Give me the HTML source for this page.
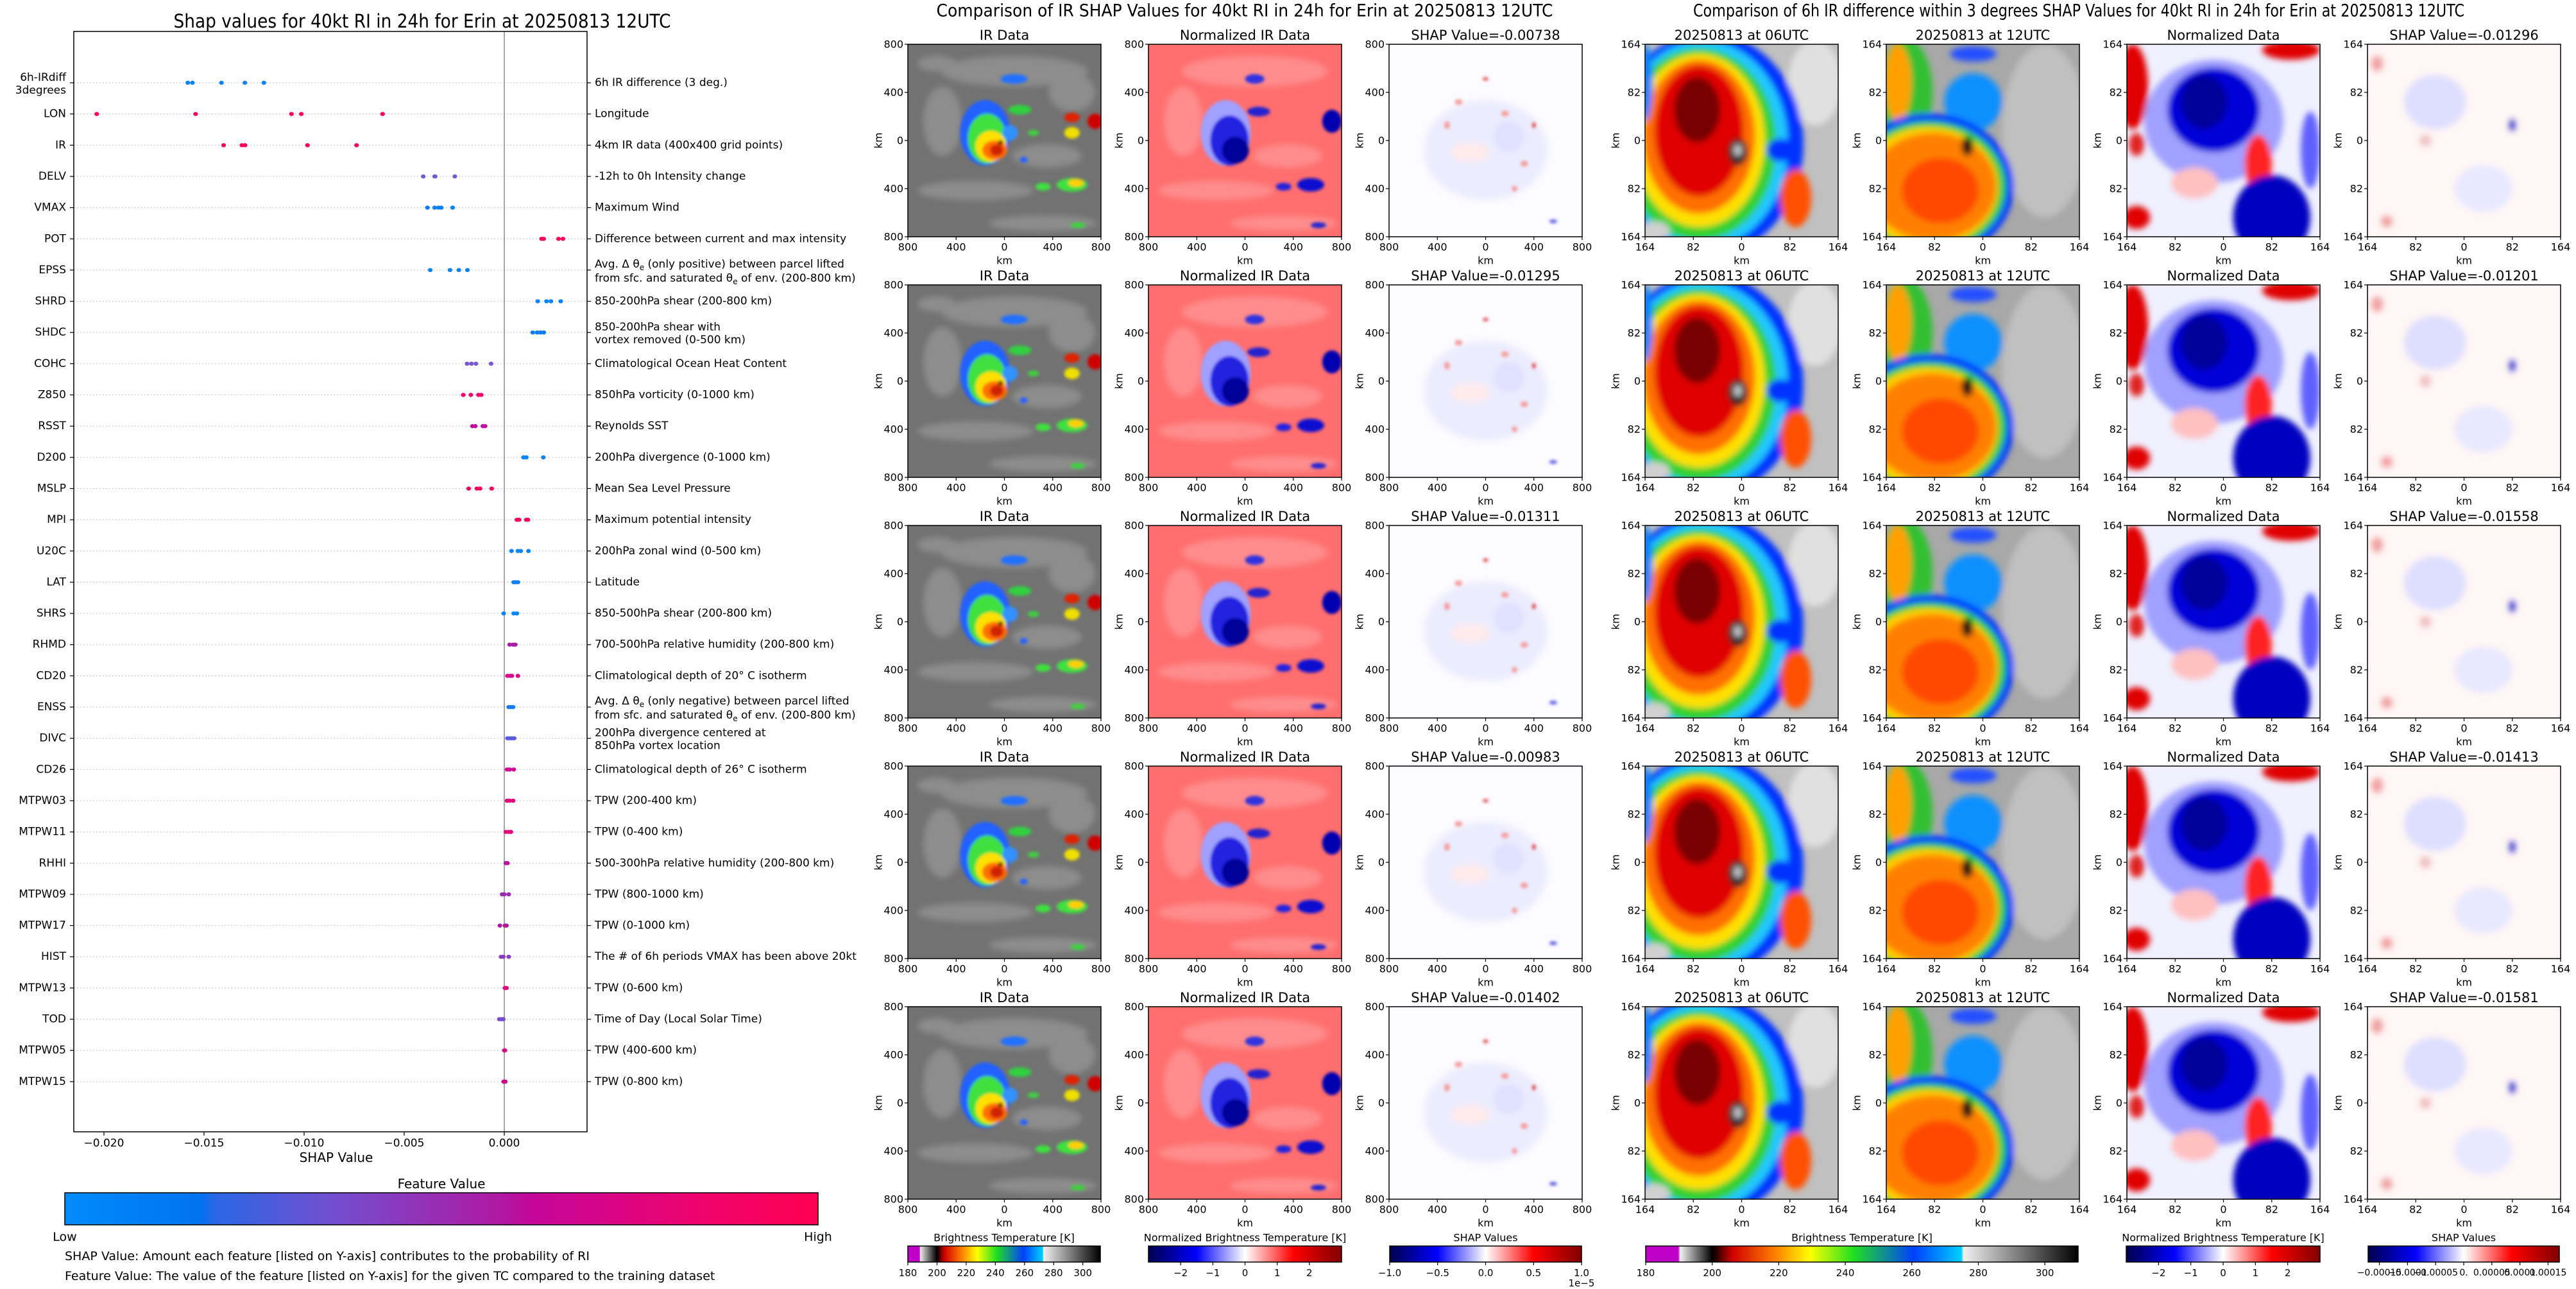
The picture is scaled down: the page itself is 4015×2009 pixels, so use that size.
<!DOCTYPE html>
<html><head><meta charset="utf-8"><title>Erin SHAP</title>
<style>
html,body{margin:0;padding:0;background:#fff;}
svg{display:block;font-family:"DejaVu Sans","Liberation Sans",sans-serif;}
</style></head>
<body>
<svg id="fig" xmlns="http://www.w3.org/2000/svg" width="4015" height="2009" viewBox="0 0 4015 2009">
<defs>
  <filter id="bl" x="-20%" y="-20%" width="140%" height="140%"><feGaussianBlur stdDeviation="1.6"/></filter>
  <filter id="bl2" x="-20%" y="-20%" width="140%" height="140%"><feGaussianBlur stdDeviation="0.8"/></filter>
  <linearGradient id="gFeat" x1="0" x2="1" y1="0" y2="0">
    <stop offset="0" stop-color="#008bfb"/><stop offset="0.18" stop-color="#0073f0"/>
    <stop offset="0.2" stop-color="#2a66e4"/><stop offset="0.35" stop-color="#7050d0"/>
    <stop offset="0.58" stop-color="#b018a2"/><stop offset="0.62" stop-color="#c4069a"/>
    <stop offset="0.85" stop-color="#f0036c"/><stop offset="1" stop-color="#ff0052"/>
  </linearGradient>
  <linearGradient id="gIR1" x1="0" x2="1" y1="0" y2="0">
    <stop offset="0" stop-color="#c000c8"/><stop offset="0.06" stop-color="#c000c8"/>
    <stop offset="0.065" stop-color="#e8e8e8"/><stop offset="0.15" stop-color="#000"/>
    <stop offset="0.19" stop-color="#d00000"/><stop offset="0.28" stop-color="#ff8000"/>
    <stop offset="0.36" stop-color="#ffff00"/><stop offset="0.46" stop-color="#20e020"/>
    <stop offset="0.6" stop-color="#0040ff"/><stop offset="0.7" stop-color="#00d0ff"/>
    <stop offset="0.705" stop-color="#f0f0f0"/><stop offset="1" stop-color="#000"/>
  </linearGradient>
  <linearGradient id="gIR2" x1="0" x2="1" y1="0" y2="0">
    <stop offset="0" stop-color="#c000c8"/><stop offset="0.075" stop-color="#c000c8"/>
    <stop offset="0.08" stop-color="#f0f0f0"/><stop offset="0.154" stop-color="#000"/>
    <stop offset="0.2" stop-color="#d00000"/><stop offset="0.3" stop-color="#ff8000"/>
    <stop offset="0.38" stop-color="#ffff00"/><stop offset="0.48" stop-color="#20e020"/>
    <stop offset="0.62" stop-color="#0040ff"/><stop offset="0.73" stop-color="#00d0ff"/>
    <stop offset="0.735" stop-color="#f0f0f0"/><stop offset="1" stop-color="#000"/>
  </linearGradient>
  <linearGradient id="gSeis" x1="0" x2="1" y1="0" y2="0">
    <stop offset="0" stop-color="#00004c"/><stop offset="0.25" stop-color="#0000ff"/>
    <stop offset="0.5" stop-color="#ffffff"/><stop offset="0.75" stop-color="#ff0000"/>
    <stop offset="1" stop-color="#800000"/>
  </linearGradient>

  <g id="imgIR">
    <rect width="100" height="100" fill="#727272"/>
    <g filter="url(#bl)" fill="#999" opacity="0.7">
      <ellipse cx="55" cy="14" rx="38" ry="8"/><ellipse cx="18" cy="40" rx="10" ry="18"/>
      <ellipse cx="35" cy="76" rx="30" ry="5"/><ellipse cx="72" cy="58" rx="18" ry="6"/>
      <ellipse cx="70" cy="93" rx="28" ry="4"/><ellipse cx="15" cy="10" rx="10" ry="4"/>
      <ellipse cx="85" cy="25" rx="12" ry="10"/>
    </g>
    <g filter="url(#bl2)">
      <ellipse cx="40" cy="46" rx="13" ry="17" fill="#2060ff"/>
      <ellipse cx="58" cy="34" rx="6" ry="2.5" fill="#30d040"/>
      <ellipse cx="55" cy="18" rx="7" ry="2.5" fill="#2070ff"/>
      <ellipse cx="41" cy="49" rx="10" ry="13" fill="#40e040"/>
      <ellipse cx="53" cy="46" rx="4" ry="4" fill="#3090ff"/>
      <ellipse cx="43" cy="53" rx="8" ry="8" fill="#ffe000"/>
      <ellipse cx="45" cy="55" rx="6.5" ry="5" fill="#ff7000"/>
      <ellipse cx="46" cy="55" rx="3.5" ry="3" fill="#d02000"/>
      <circle cx="48" cy="51" r="1.2" fill="#200000"/>
      <ellipse cx="97" cy="40" rx="4" ry="4" fill="#d00000"/>
      <ellipse cx="85" cy="38" rx="4" ry="2.5" fill="#e02000"/>
      <ellipse cx="85" cy="46" rx="4" ry="3" fill="#f0e000"/>
      <ellipse cx="85" cy="73" rx="8" ry="3.5" fill="#40e040"/>
      <ellipse cx="87" cy="72" rx="4" ry="2" fill="#ffd000"/>
      <ellipse cx="70" cy="74" rx="4" ry="2" fill="#40e040"/>
      <ellipse cx="88" cy="94" rx="4" ry="1.5" fill="#40d040"/>
      <ellipse cx="60" cy="60" rx="2" ry="1.5" fill="#2060ff"/>
      <ellipse cx="65" cy="46" rx="3" ry="1.5" fill="#40d040"/>
    </g>
  </g>
  <g id="imgNIR">
    <rect width="100" height="100" fill="#ff6e6e"/>
    <g filter="url(#bl)" fill="#ff9a9a" opacity="0.7">
      <ellipse cx="55" cy="14" rx="38" ry="8"/><ellipse cx="18" cy="40" rx="10" ry="18"/>
      <ellipse cx="35" cy="76" rx="30" ry="5"/><ellipse cx="72" cy="58" rx="18" ry="6"/>
      <ellipse cx="70" cy="93" rx="28" ry="4"/>
    </g>
    <g filter="url(#bl2)">
      <ellipse cx="40" cy="46" rx="13" ry="17" fill="#a0a0ff"/>
      <ellipse cx="42" cy="50" rx="10" ry="13" fill="#2020e0"/>
      <ellipse cx="45" cy="55" rx="7" ry="7" fill="#00009a"/>
      <ellipse cx="55" cy="18" rx="5" ry="2.5" fill="#3030e0"/>
      <ellipse cx="57" cy="35" rx="6" ry="2.5" fill="#2020d0"/>
      <ellipse cx="95" cy="40" rx="5" ry="6" fill="#0000b0"/>
      <ellipse cx="84" cy="73" rx="7" ry="3.5" fill="#1010d0"/>
      <ellipse cx="70" cy="74" rx="4" ry="2" fill="#2020e0"/>
      <ellipse cx="88" cy="94" rx="4" ry="1.5" fill="#2020d0"/>
    </g>
  </g>
  <g id="imgSIR">
    <rect width="100" height="100" fill="#fcfbff"/>
    <g filter="url(#bl)">
      <ellipse cx="50" cy="55" rx="32" ry="26" fill="#ececff"/>
      <ellipse cx="42" cy="56" rx="10" ry="5" fill="#ffeaea"/>
      <ellipse cx="62" cy="48" rx="8" ry="8" fill="#e0e0ff"/>
    </g>
    <g filter="url(#bl2)" fill="#f4a0a0">
      <ellipse cx="36" cy="30" rx="2" ry="1.5"/><ellipse cx="50" cy="18" rx="1.5" ry="1" fill="#e06060"/>
      <ellipse cx="60" cy="36" rx="2" ry="1.5"/><ellipse cx="75" cy="42" rx="1" ry="1.5" fill="#e05050"/>
      <ellipse cx="70" cy="62" rx="2" ry="1.5"/><ellipse cx="65" cy="75" rx="1.5" ry="1.5"/>
      <ellipse cx="30" cy="42" rx="1.5" ry="2"/><ellipse cx="85" cy="92" rx="2" ry="1" fill="#6060e0"/>
    </g>
  </g>
  <g id="img06">
    <rect width="100" height="100" fill="#c0c0c0"/>
    <g filter="url(#bl)">
      <ellipse cx="88" cy="20" rx="14" ry="22" fill="#e0e0e0"/>
      <ellipse cx="32" cy="52" rx="50" ry="58" fill="#0030ff"/>
      <ellipse cx="30" cy="52" rx="44" ry="54" fill="#20c8ff"/>
      <ellipse cx="28" cy="52" rx="40" ry="50" fill="#30d030"/>
      <ellipse cx="28" cy="50" rx="34" ry="45" fill="#ffe000"/>
      <ellipse cx="28" cy="48" rx="29" ry="40" fill="#ff7000"/>
      <ellipse cx="28" cy="45" rx="23" ry="34" fill="#e00000"/>
      <ellipse cx="27" cy="34" rx="12" ry="17" fill="#780000"/>
      <ellipse cx="78" cy="80" rx="8" ry="15" fill="#ff5000"/>
      <ellipse cx="70" cy="55" rx="7" ry="6" fill="#0030ff"/>
      <ellipse cx="0" cy="20" rx="4" ry="20" fill="#1080ff"/>
      <ellipse cx="48" cy="56" rx="5" ry="7" fill="#202020"/>
      <ellipse cx="48" cy="55" rx="2" ry="3" fill="#d0d0d0"/>
      <ellipse cx="5" cy="97" rx="8" ry="5" fill="#d0d0d0"/>
    </g>
  </g>
  <g id="img12">
    <rect width="100" height="100" fill="#a8a8a8"/>
    <g filter="url(#bl)">
      <ellipse cx="82" cy="45" rx="22" ry="45" fill="#c0c0c0"/>
      <ellipse cx="10" cy="25" rx="14" ry="28" fill="#30c030"/>
      <ellipse cx="6" cy="20" rx="7" ry="20" fill="#ffa000"/>
      <ellipse cx="45" cy="30" rx="15" ry="15" fill="#1090ff"/>
      <ellipse cx="45" cy="5" rx="12" ry="4" fill="#2050ff"/>
      <ellipse cx="22" cy="74" rx="44" ry="38" fill="#0030ff"/>
      <ellipse cx="22" cy="74" rx="40" ry="34" fill="#30d030"/>
      <ellipse cx="22" cy="74" rx="36" ry="31" fill="#ffd000"/>
      <ellipse cx="24" cy="74" rx="33" ry="28" fill="#ff8000"/>
      <ellipse cx="28" cy="76" rx="20" ry="17" fill="#ff4a00"/>
      <ellipse cx="42" cy="53" rx="3" ry="5" fill="#101010"/>
    </g>
  </g>
  <g id="imgN">
    <rect width="100" height="100" fill="#f0f0ff"/>
    <g filter="url(#bl)">
      <ellipse cx="45" cy="40" rx="36" ry="32" fill="#a0a0ff"/>
      <ellipse cx="45" cy="34" rx="24" ry="22" fill="#0000d8"/>
      <ellipse cx="40" cy="30" rx="12" ry="14" fill="#00009a"/>
      <ellipse cx="3" cy="22" rx="8" ry="22" fill="#e00000"/>
      <ellipse cx="85" cy="3" rx="15" ry="5" fill="#e00000"/>
      <ellipse cx="5" cy="52" rx="4" ry="6" fill="#e02020"/>
      <ellipse cx="68" cy="62" rx="7" ry="15" fill="#ff2020"/>
      <ellipse cx="35" cy="72" rx="12" ry="8" fill="#ffc0c0"/>
      <ellipse cx="75" cy="90" rx="20" ry="22" fill="#0000c0"/>
      <ellipse cx="5" cy="90" rx="7" ry="6" fill="#e00000"/>
      <ellipse cx="95" cy="55" rx="5" ry="20" fill="#6060ff"/>
    </g>
  </g>
  <g id="imgSN">
    <rect width="100" height="100" fill="#fff6f6"/>
    <g filter="url(#bl)">
      <ellipse cx="35" cy="30" rx="16" ry="14" fill="#dedeff"/>
      <ellipse cx="60" cy="75" rx="15" ry="12" fill="#e8e8ff"/>
      <ellipse cx="5" cy="10" rx="3" ry="4" fill="#f0a0a0"/>
      <ellipse cx="30" cy="50" rx="3" ry="3" fill="#f0c0c0"/>
      <ellipse cx="75" cy="42" rx="1.5" ry="3" fill="#2020c0"/>
      <ellipse cx="10" cy="92" rx="3" ry="3" fill="#f0a0a0"/>
    </g>
  </g>
</defs>
</svg>

<script>
// ---------- Beeswarm data ----------
const featNames = ["6h-IRdiff|3degrees","LON","IR","DELV","VMAX","POT","EPSS","SHRD","SHDC","COHC","Z850","RSST","D200","MSLP","MPI","U20C","LAT","SHRS","RHMD","CD20","ENSS","DIVC","CD26","MTPW03","MTPW11","RHHI","MTPW09","MTPW17","HIST","MTPW13","TOD","MTPW05","MTPW15"];
const featDescs = ["6h IR difference (3 deg.)","Longitude","4km IR data (400x400 grid points)","-12h to 0h Intensity change","Maximum Wind","Difference between current and max intensity","EPSS_MULTI","850-200hPa shear (200-800 km)","850-200hPa shear with|vortex removed (0-500 km)","Climatological Ocean Heat Content","850hPa vorticity (0-1000 km)","Reynolds SST","200hPa divergence (0-1000 km)","Mean Sea Level Pressure","Maximum potential intensity","200hPa zonal wind (0-500 km)","Latitude","850-500hPa shear (200-800 km)","700-500hPa relative humidity (200-800 km)","Climatological depth of 20° C isotherm","ENSS_MULTI","200hPa divergence centered at|850hPa vortex location","Climatological depth of 26° C isotherm","TPW (200-400 km)","TPW (0-400 km)","500-300hPa relative humidity (200-800 km)","TPW (800-1000 km)","TPW (0-1000 km)","The # of 6h periods VMAX has been above 20kt","TPW (0-600 km)","Time of Day (Local Solar Time)","TPW (400-600 km)","TPW (0-800 km)"];
const shapValues = [
 [-0.01581,-0.01558,-0.01413,-0.01296,-0.01201],
 [-0.02036,-0.01542,-0.01063,-0.01014,-0.00608],
 [-0.01402,-0.01311,-0.01295,-0.00983,-0.00738],
 [-0.00405,-0.00348,-0.00345,-0.00247],
 [-0.00384,-0.00348,-0.00329,-0.00315,-0.00258],
 [0.00186,0.00197,0.00271,0.00293],
 [-0.0037,-0.00271,-0.00227,-0.00184],
 [0.00167,0.00211,0.00233,0.00282],
 [0.00142,0.00164,0.00181,0.00197],
 [-0.00186,-0.00164,-0.00142,-0.00066],
 [-0.00205,-0.00167,-0.00129,-0.00115],
 [-0.00159,-0.00145,-0.00107,-0.00096],
 [0.00096,0.00110,0.00195],
 [-0.00178,-0.00137,-0.00121,-0.00063],
 [0.00063,0.00074,0.0011,0.00118],
 [0.00036,0.00068,0.00082,0.00121],
 [0.00047,0.00058,0.00068],
 [-0.00003,0.00047,0.00063],
 [0.00027,0.00044,0.00055],
 [0.00016,0.0003,0.00038,0.00068],
 [0.00022,0.00033,0.00044],
 [0.00016,0.00027,0.00038,0.00049],
 [0.00014,0.00027,0.00047],
 [0.00014,0.00027,0.00044],
 [0.00008,0.00022,0.00033],
 [0.00008,0.00016],
 [-0.00011,0,0.00022],
 [-0.00022,0.00003,0.00011],
 [-0.00016,-0.00005,0.00022],
 [0.00003,0.00011],
 [-0.00025,-0.00014,-0.00005],
 [0,0.00003],
 [-0.00003,0.00003,0.00005]];
const featColors = ["#0a85f8","#ff0355","#fe0457","#7658d4","#0a80f6","#ff0457","#0a84f7","#0a84f7","#0c7ef5","#7a56d0","#f5036a","#c0089e","#0a84f7","#f8045f","#fb045c","#0a84f7","#0a80f5","#0a84f7","#a81ea8","#d8068c","#1a7af2","#5a5ae0","#d00892","#e0057e","#e8047a","#b8129e","#9a2ab4","#b0169e","#8a3cc0","#e8047a","#7a4cd0","#d8068c","#d0088e"];
const xTicks = [-0.020,-0.015,-0.010,-0.005,0.000];
const xTickLabels = ["\u22120.020","\u22120.015","\u22120.010","\u22120.005","0.000"];

// ---------- Image panel data ----------
const irShap = ["-0.00738","-0.01295","-0.01311","-0.00983","-0.01402"];
const diffShap = ["-0.01296","-0.01201","-0.01558","-0.01413","-0.01581"];
const kmTicks = ["800","400","0","400","800"];
const degTicks = ["164","82","0","82","164"];
const cbIRTicks1 = [180,200,220,240,260,280,300];
const cbIRTicks2 = [180,200,220,240,260,280,300];
const cbNormTicks = [-2,-1,0,1,2];
const cbShapTicks1 = [-1.0,-0.5,0.0,0.5,1.0];
const cbShapTicks2 = [-0.00015,-0.0001,-0.00005,0,0.00005,0.0001,0.00015];

const NS="http://www.w3.org/2000/svg";
const fig=document.getElementById('fig');
function mk(tag,attrs,parent){const e=document.createElementNS(NS,tag);for(const k in attrs)e.setAttribute(k,attrs[k]);(parent||fig).appendChild(e);return e;}
function txt(s,x,y,size,anchor,name,parent,extra){
  const t=mk('text',Object.assign({x:x,y:y,'font-size':size,'text-anchor':anchor||'middle','dominant-baseline':'central',fill:'#000'},extra||{}),parent);
  t.textContent=s;
  
  
  return t;}

// ---------- Left beeswarm ----------
const PL=115, PR=915, PT=49, PB=1764, X0=786, XS=31200;
const Y0=129, YS=48.65;
function xScale(v){return X0+v*XS;}
function yScale(i){return Y0+i*YS;}
const bees=mk('g',{});


txt("Shap values for 40kt RI in 24h for Erin at 20250813 12UTC",658,33,29,'middle','beeswarm-title',bees,{textLength:775,lengthAdjust:'spacingAndGlyphs'});
featNames.forEach((n,i)=>{
  const y=yScale(i);
  const gl=mk('line',{x1:PL,x2:PR,y1:y,y2:y,stroke:'#ccc','stroke-width':1.2,'stroke-dasharray':'2,3'},bees);
  
  
  mk('line',{x1:PL-6,x2:PL,y1:y,y2:y,stroke:'#000','stroke-width':1.2},bees);
  mk('line',{x1:PR,x2:PR+6,y1:y,y2:y,stroke:'#000','stroke-width':1.2},bees);
  const parts=n.split('|');
  if(parts.length>1){
    txt(parts[0],PL-12,y-8,17,'end','y-label-'+i,bees);
    txt(parts[1],PL-12,y+12,17,'end','y-label-'+i+'-line2',bees);
  } else txt(n,PL-12,y,17,'end','y-label-'+n.toLowerCase(),bees);
  const d=featDescs[i];
  if(d==="EPSS_MULTI"||d==="ENSS_MULTI"){
    const sign=d==="EPSS_MULTI"?"positive":"negative";
    const t1=txt("",PR+12,y-9,17,'start','right-label-'+i,bees);
    t1.innerHTML='Avg. \u0394 \u03b8<tspan font-size="12" dy="5">e</tspan><tspan dy="-5"> (only '+sign+') between parcel lifted</tspan>';
    const t2=txt("",PR+12,y+13,17,'start','right-label-'+i+'-line2',bees);
    t2.innerHTML='from sfc. and saturated \u03b8<tspan font-size="12" dy="5">e</tspan><tspan dy="-5"> of env. (200-800 km)</tspan>';
  } else {
    const dp=d.split('|');
    if(dp.length>1){txt(dp[0],PR+12,y-8,17,'start','right-label-'+i,bees);txt(dp[1],PR+12,y+12,17,'start','right-label-'+i+'-line2',bees);}
    else txt(d,PR+12,y,17,'start','right-label-'+i,bees);
  }
});
const zl=mk('line',{x1:X0,x2:X0,y1:PT,y2:PB,stroke:'#888','stroke-width':1.5},bees);


shapValues.forEach((arr,i)=>{
  arr.forEach((v,j)=>{
    const c=mk('ellipse',{cx:xScale(v),cy:yScale(i),rx:3.6,ry:3.2,fill:featColors[i]},bees);
    
    
  });
});
const frame=mk('rect',{x:PL,y:PT,width:PR-PL,height:PB-PT,fill:'none',stroke:'#000','stroke-width':1.5},bees);


xTicks.forEach((v,k)=>{
  const x=xScale(v);
  mk('line',{x1:x,x2:x,y1:PB,y2:PB+6,stroke:'#000','stroke-width':1.2},bees);
  txt(xTickLabels[k],x,PB+18,17,'middle','x-tick-'+k,bees);
});
txt("SHAP Value",X0-262,PB+40,20,'middle','x-axis-title',bees);
txt("Feature Value",688,1845,20,'middle','colorbar-title',bees);
const cbf=mk('rect',{x:101,y:1859,width:1174,height:50,fill:'url(#gFeat)',stroke:'#000','stroke-width':1.5},bees);


txt("Low",101,1928,19,'middle','colorbar-low-label',bees);
txt("High",1275,1928,19,'middle','colorbar-high-label',bees);
txt("SHAP Value: Amount each feature [listed on Y-axis] contributes to the probability of RI",101,1958,19,'start','shap-value-note',bees);
txt("Feature Value: The value of the feature [listed on Y-axis] for the given TC compared to the training dataset",101,1989,19,'start','feature-value-note',bees);

// ---------- Image panels ----------
const midCols=[1415,1790,2165], rightCols=[2564,2940,3315,3690];
const PW=301, PH=300, rowTop=69, rowStep=375;
txt("Comparison of IR SHAP Values for 40kt RI in 24h for Erin at 20250813 12UTC",1940,17,27,'middle','ir-comparison-title',null,{textLength:961,lengthAdjust:'spacingAndGlyphs'});
txt("Comparison of 6h IR difference within 3 degrees SHAP Values for 40kt RI in 24h for Erin at 20250813 12UTC",3240,17,27,'middle','diff-comparison-title',null,{textLength:1202,lengthAdjust:'spacingAndGlyphs'});

function panel(x,y,tmpl,title,ticks,name){
  const g=mk('g',{});
  
  
  const s=mk('svg',{x:x,y:y,width:PW,height:PH,viewBox:'0 0 100 100',preserveAspectRatio:'none'},g);
  mk('use',{href:'#'+tmpl},s);
  mk('rect',{x:x,y:y,width:PW,height:PH,fill:'none',stroke:'#000','stroke-width':1.5},g);
  txt(title,x+PW/2,y-14,21,'middle',name+'-title',g);
  ticks.forEach((t,k)=>{
    const yy=y+k*PH/4, xx=x+k*PW/4;
    mk('line',{x1:x-5,x2:x,y1:yy,y2:yy,stroke:'#000','stroke-width':1.2},g);
    txt(t,x-7,yy,16,'end',name+'-ytick-'+k,g);
    mk('line',{x1:xx,x2:xx,y1:y+PH,y2:y+PH+5,stroke:'#000','stroke-width':1.2},g);
    txt(t,xx,y+PH+16,16,'middle',name+'-xtick-'+k,g);
  });
  txt("km",x+PW/2,y+PH+37,16,'middle',name+'-xlabel',g);
  txt("km",x-46,y+PH/2,16,'middle',name+'-ylabel',g,{transform:'rotate(-90 '+(x-46)+' '+(y+PH/2)+')'});
}
for(let r=0;r<5;r++){
  const y=rowTop+r*rowStep;
  panel(midCols[0],y,'imgIR',"IR Data",kmTicks,'ir-data-r'+r);
  panel(midCols[1],y,'imgNIR',"Normalized IR Data",kmTicks,'norm-ir-r'+r);
  panel(midCols[2],y,'imgSIR',"SHAP Value="+irShap[r],kmTicks,'ir-shap-r'+r);
  panel(rightCols[0],y,'img06',"20250813 at 06UTC",degTicks,'ir06-r'+r);
  panel(rightCols[1],y,'img12',"20250813 at 12UTC",degTicks,'ir12-r'+r);
  panel(rightCols[2],y,'imgN',"Normalized Data",degTicks,'norm-diff-r'+r);
  panel(rightCols[3],y,'imgSN',"SHAP Value="+diffShap[r],degTicks,'diff-shap-r'+r);
}

// ---------- Colorbars ----------
const CBY=1942, CBH=25;
function cbar(x,w,grad,label,ticks,lo,hi,fmt,name,fs){
  const g=mk('g',{});
  
  
  mk('rect',{x:x,y:CBY,width:w,height:CBH,fill:'url(#'+grad+')',stroke:'#000','stroke-width':1.5},g);
  txt(label,x+w/2,CBY-13,16,'middle',name+'-label',g);
  ticks.forEach((t,k)=>{
    const xx=x+(t-lo)/(hi-lo)*w;
    mk('line',{x1:xx,x2:xx,y1:CBY+CBH,y2:CBY+CBH+5,stroke:'#000','stroke-width':1.2},g);
    txt(fmt(t),xx,CBY+CBH+17,fs||15,'middle',name+'-tick-'+k,g);
  });
}
const neg=s=>s.replace('-','\u2212');
cbar(1415,300,'gIR1',"Brightness Temperature [K]",cbIRTicks1,180,312,t=>String(t),'ir-colorbar');
cbar(1790,301,'gSeis',"Normalized Brightness Temperature [K]",cbNormTicks,-3,3,t=>neg(String(t)),'norm-ir-colorbar');
cbar(2166,299,'gSeis',"SHAP Values",cbShapTicks1,-1,1,t=>neg(t.toFixed(1)),'ir-shap-colorbar');
txt("1e\u22125",2465,2000,15,'middle','shap-colorbar-exponent');
cbar(2565,674,'gIR2',"Brightness Temperature [K]",cbIRTicks2,180,310,t=>String(t),'diff-ir-colorbar');
cbar(3314,302,'gSeis',"Normalized Brightness Temperature [K]",cbNormTicks,-3,3,t=>neg(String(t)),'diff-norm-colorbar');
cbar(3691,298,'gSeis',"SHAP Values",cbShapTicks2,-0.00017,0.00017,t=>neg(t.toFixed(5).replace(/0+$/,'')),'diff-shap-colorbar',14);
</script>
</body></html>
